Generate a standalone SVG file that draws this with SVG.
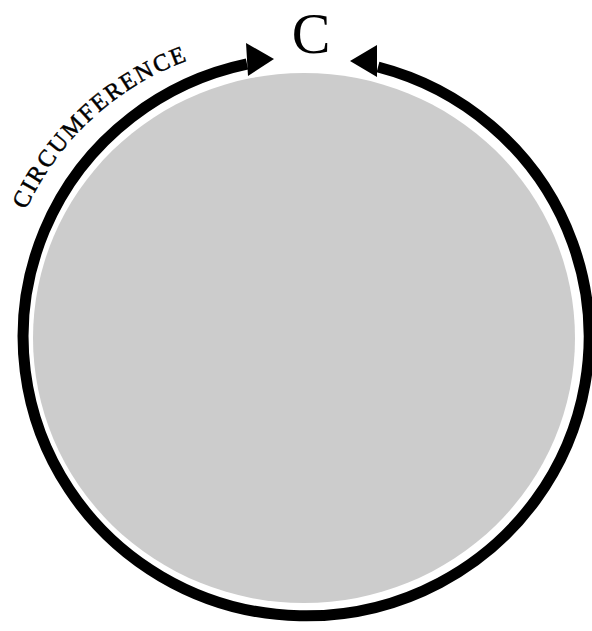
<svg xmlns="http://www.w3.org/2000/svg" width="592" height="631" viewBox="0 0 592 631">
<style>
.arc{fill:none;stroke:#000;stroke-width:11}
.head{fill:#000}
.lbl{font-family:"Liberation Serif",serif;fill:#000}
</style>
<rect width="592" height="631" fill="#fff"/>
<g id="circle">
<ellipse cx="304" cy="338" rx="271" ry="265" fill="#cccccc"/>
</g>
<g id="connectors">
<path class="arc" d="M 247 64 A 283 279 0 1 0 378 67"/>
<polygon class="head" points="246,43 274,59 248,76"/>
<polygon class="head" points="377,45 350,61 377,77"/>
</g>
<g id="label-c">
<text class="lbl" x="311" y="53" font-size="58" text-anchor="middle">C</text>
</g>
<g id="label-circumference">
<path id="tp" d="M 26 210 A 285 285 0 0 1 204 55" fill="none"/>
<text class="lbl" font-size="24" letter-spacing="2" stroke="#000" stroke-width="0.5"><textPath href="#tp">CIRCUMFERENCE</textPath></text>
</g>
</svg>
